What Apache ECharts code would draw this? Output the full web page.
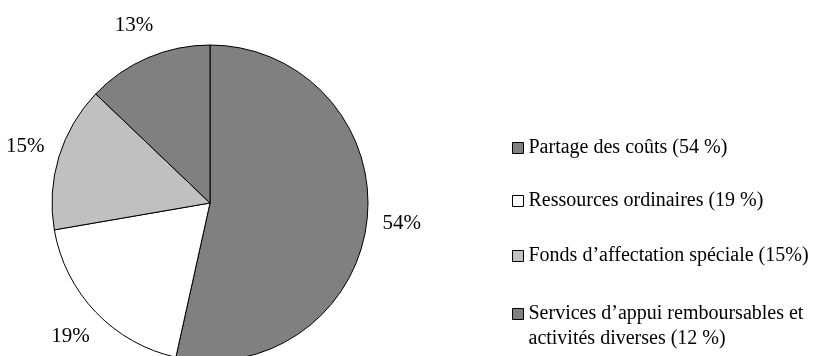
<!DOCTYPE html>
<html>
<head>
<meta charset="utf-8">
<script src="https://cdn.jsdelivr.net/npm/echarts@6/dist/echarts.min.js"></script>
<style>html,body{margin:0;padding:0;background:#fff;}#c{width:814px;height:356px;}</style>
</head>
<body>
<div id="c"></div>
<script>
var categories = [
  'Partage des coûts (54 %)',
  'Ressources ordinaires (19 %)',
  'Fonds d\u2019affectation spéciale (15%)',
  'Services d\u2019appui remboursables et\nactivités diverses (12 %)'
];
var values = [54, 19, 15, 13];
var colors = ['#808080', '#ffffff', '#c0c0c0', '#808080'];
var legendCenters = [148, 201, 256, 314];

var FONT = 'Liberation Serif, Times New Roman, serif';
var chart = echarts.init(document.getElementById('c'), null, {renderer: 'canvas'});

var pieData = categories.map(function (n, i) {
  return {name: n, value: values[i], itemStyle: {color: colors[i]}};
});

var legends = categories.map(function (n, i) {
  var multi = n.indexOf('\n') >= 0;
  return {
    data: [n],
    orient: 'vertical',
    left: 512,
    top: multi ? legendCenters[i] - 37.5 : legendCenters[i] - 12.5,
    padding: 0,
    itemWidth: 11,
    itemHeight: 11,
    icon: 'rect',
    selectedMode: false,
    itemStyle: {borderColor: '#000', borderWidth: 1},
    formatter: function (name) {
      return multi ? '{g|}\n' + name.split('\n').map(function (s) { return '{t|' + s + '}'; }).join('\n') : name;
    },
    textStyle: {
      fontFamily: FONT, fontSize: 20, color: '#000', lineHeight: 25,
      rich: {
        g: {height: 25, lineHeight: 25, fontSize: 20},
        t: {fontFamily: FONT, fontSize: 20, color: '#000', lineHeight: 25}
      }
    }
  };
});

chart.setOption({
  animation: false,
  legend: legends,
  series: [
    {
      type: 'pie',
      center: [210, 203],
      radius: 158,
      startAngle: 90,
      clockwise: true,
      silent: true,
      avoidLabelOverlap: false,
      label: {show: false},
      labelLine: {show: false},
      itemStyle: {borderColor: '#000', borderWidth: 1},
      data: pieData
    },
    {
      type: 'pie',
      center: [210, 203],
      radius: [180, 200],
      startAngle: 90,
      clockwise: true,
      silent: true,
      avoidLabelOverlap: false,
      itemStyle: {color: 'rgba(0,0,0,0)', borderWidth: 0},
      label: {
        show: true, position: 'inside', formatter: '{c}%',
        fontFamily: FONT, fontSize: 21, color: '#000'
      },
      labelLine: {show: false},
      data: categories.map(function (n, i) { return {name: n, value: values[i]}; })
    }
  ]
});
</script>
</body>
</html>
